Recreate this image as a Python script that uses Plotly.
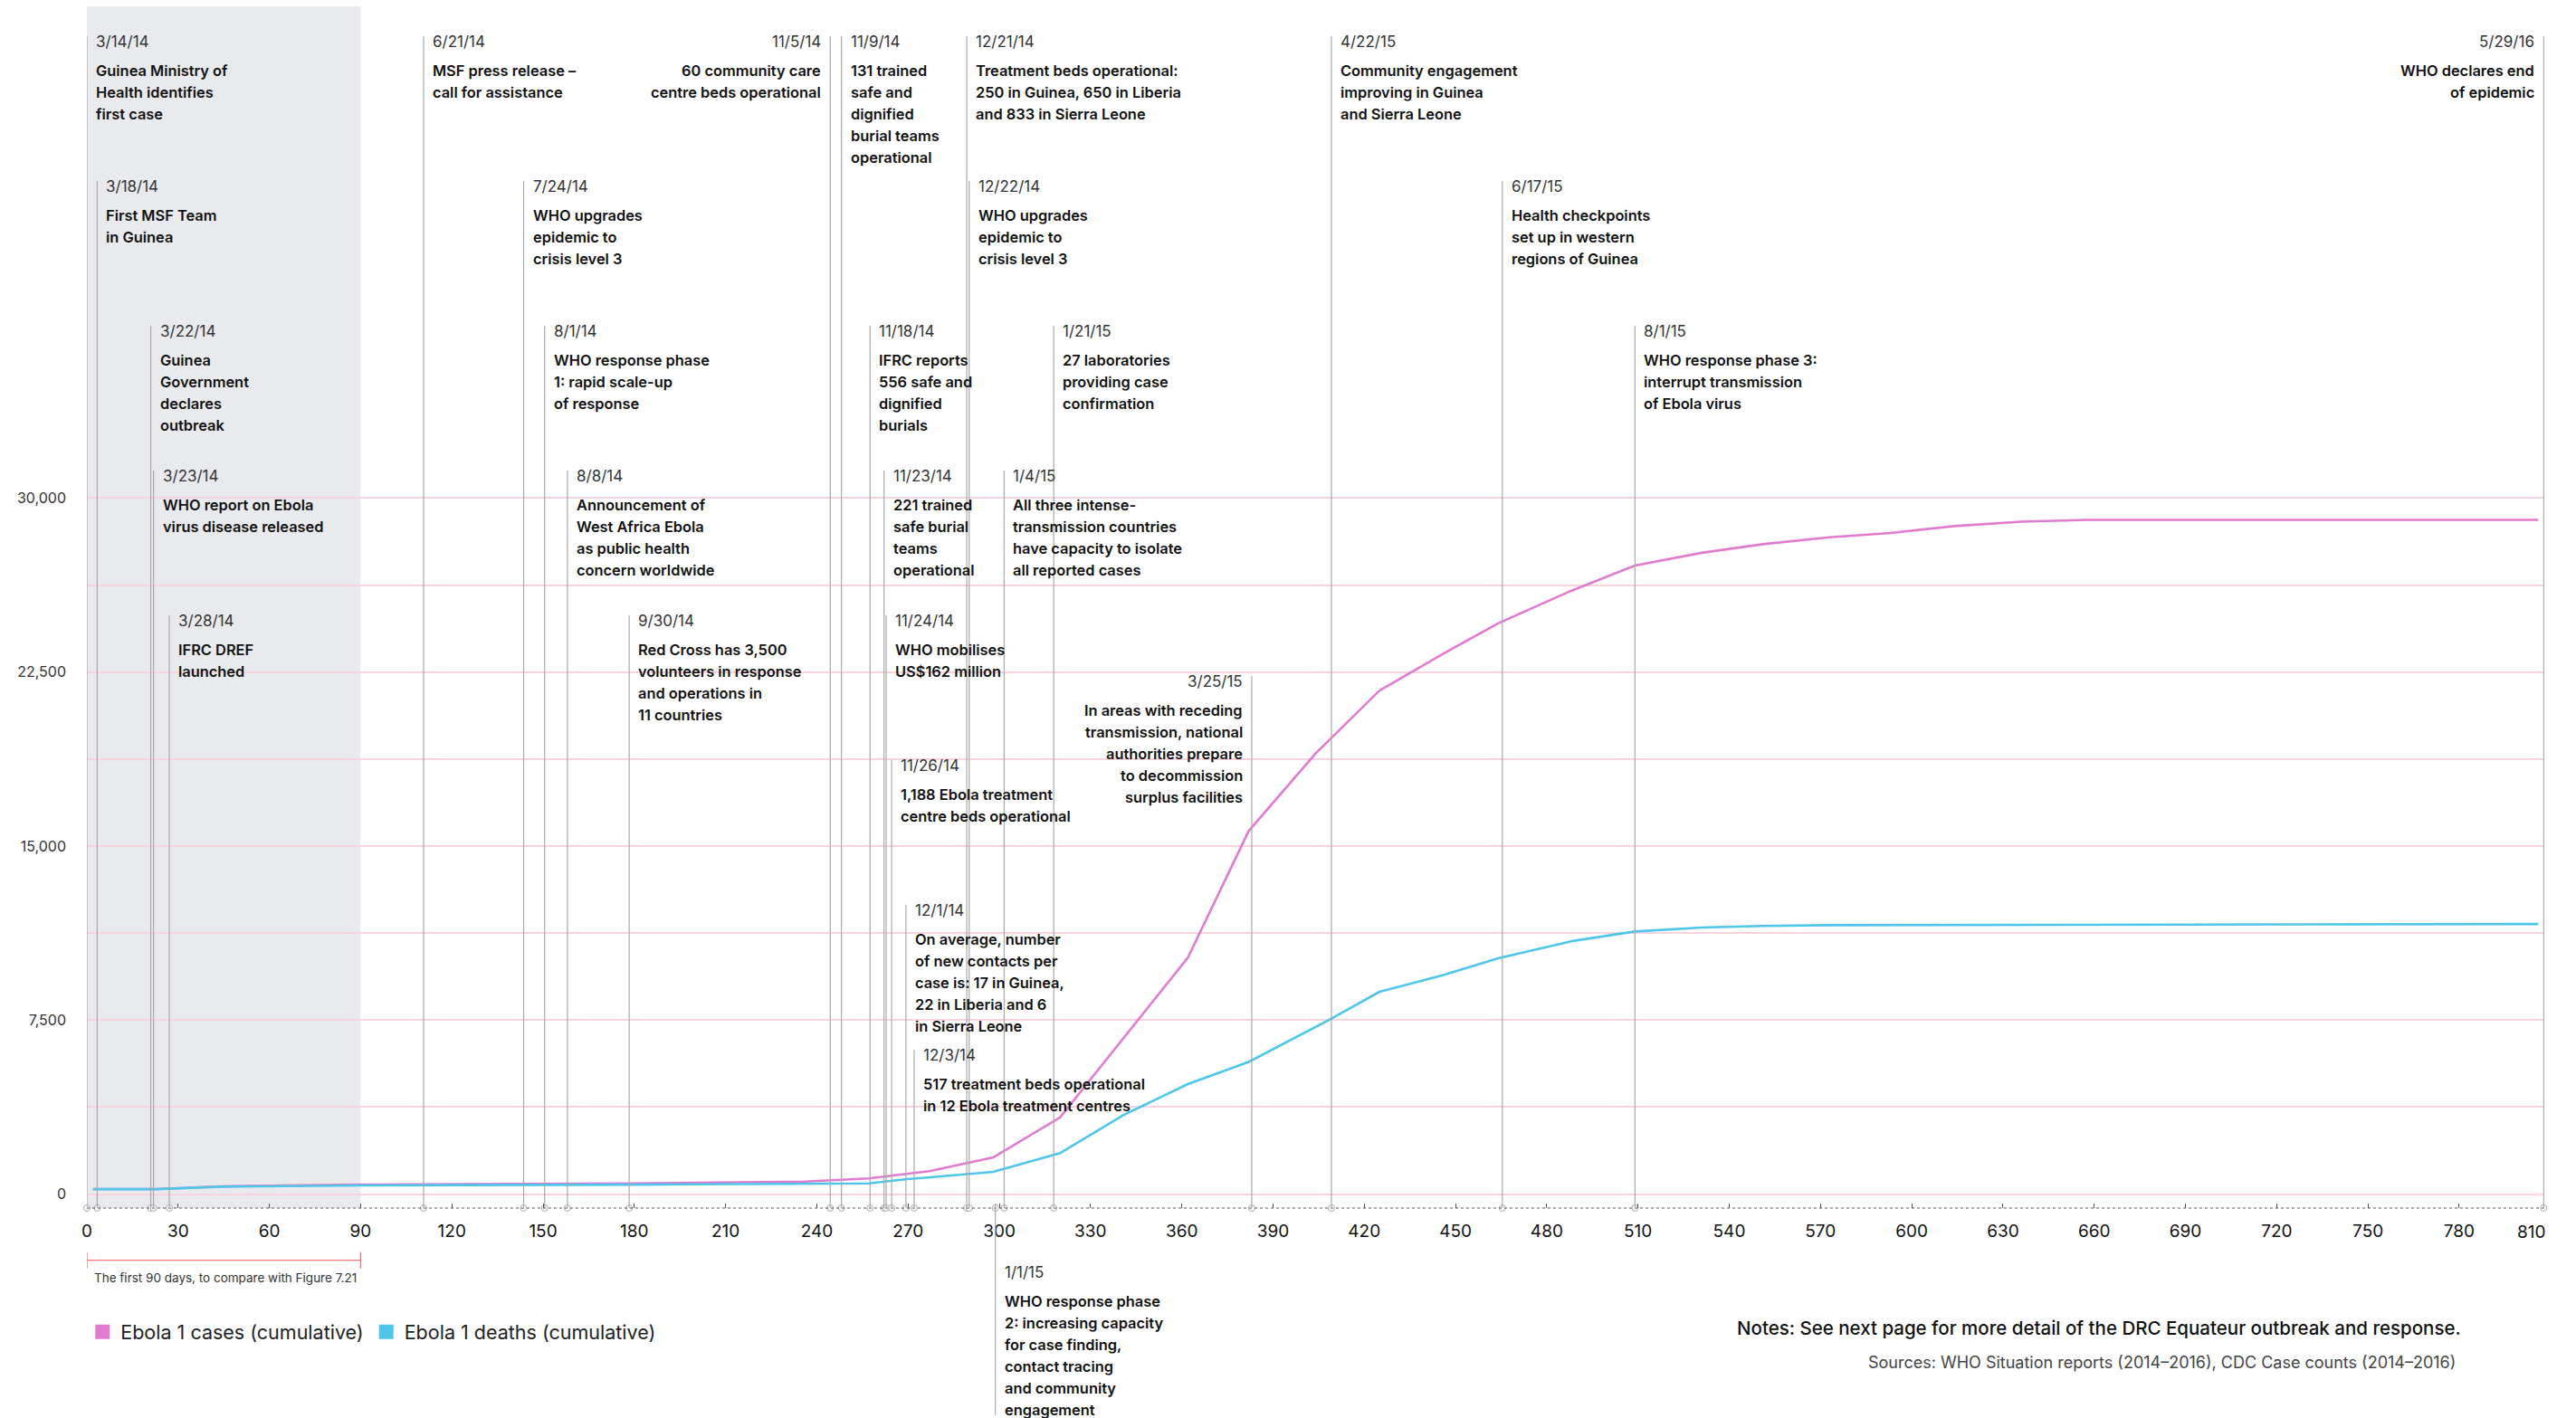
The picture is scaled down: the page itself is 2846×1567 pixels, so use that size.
import plotly.graph_objects as go

# ---------------- data ----------------
case_days = [2, 23, 44, 90, 179, 236, 257, 269, 277, 298, 320, 362, 382, 404, 425, 446, 464, 488, 509, 531, 551, 573, 593, 614, 636, 658, 806]
cases = [220, 220, 335, 410, 465, 540, 675, 880, 990, 1580, 3310, 10190, 15650, 18990, 21700, 23290, 24600, 26000, 27090, 27640, 28010, 28310, 28490, 28790, 28980, 29060, 29060]

death_days = [2, 23, 44, 90, 179, 236, 257, 269, 298, 320, 341, 362, 382, 408, 425, 446, 464, 489, 509, 531, 551, 573, 806]
deaths = [215, 215, 320, 375, 410, 440, 465, 636, 960, 1770, 3420, 4740, 5700, 7480, 8720, 9440, 10160, 10920, 11320, 11490, 11560, 11590, 11640]

x_ticks = list(range(0, 781, 30))
x_last_label = "810"
y_grid = [0, 3750, 7500, 11250, 15000, 18750, 22500, 26250, 30000]
y_labels = ["0", "", "7,500", "", "15,000", "", "22,500", "", "30,000"]

event_dates = ["3/14/14", "3/18/14", "3/22/14", "3/23/14", "3/28/14", "6/21/14", "7/24/14", "8/1/14",
               "8/8/14", "9/30/14", "11/5/14", "11/9/14", "11/18/14", "11/23/14", "11/24/14", "11/26/14",
               "12/1/14", "12/3/14", "12/21/14", "12/22/14", "1/1/15", "1/4/15", "1/21/15", "3/25/15",
               "4/22/15", "6/17/15", "8/1/15", "5/29/16"]
event_days = [0, 3.4, 21, 21.9, 27.1, 110.7, 143.6, 150.5,
              158, 178.3, 244.4, 248.1, 257.5, 262.1, 262.8, 264.6,
              269.3, 272, 289.3, 290.1, 298.7, 301.6, 317.9, 383,
              409.2, 465.4, 509, 807.8]
event_rows = [0, 1, 2, 3, 4, 0, 1, 2,
              3, 4, 0, 0, 2, 3, 4, 5,
              6, 7, 0, 1, 8.5, 3, 2, 4.42,
              0, 1, 2, 0]
event_sides = ["L", "L", "L", "L", "L", "L", "L", "L",
               "L", "L", "R", "L", "L", "L", "L", "L",
               "L", "L", "L", "L", "L", "L", "L", "R",
               "L", "L", "L", "R"]
event_texts = [
    ["Guinea Ministry of", "Health identifies", "first case"],
    ["First MSF Team", "in Guinea"],
    ["Guinea", "Government", "declares", "outbreak"],
    ["WHO report on Ebola", "virus disease released"],
    ["IFRC DREF", "launched"],
    ["MSF press release \u2013", "call for assistance"],
    ["WHO upgrades", "epidemic to", "crisis level 3"],
    ["WHO response phase", "1: rapid scale-up", "of response"],
    ["Announcement of", "West Africa Ebola", "as public health", "concern worldwide"],
    ["Red Cross has 3,500", "volunteers in response", "and operations in", "11 countries"],
    ["60 community care", "centre beds operational"],
    ["131 trained", "safe and", "dignified", "burial teams", "operational"],
    ["IFRC reports", "556 safe and", "dignified", "burials"],
    ["221 trained", "safe burial", "teams", "operational"],
    ["WHO mobilises", "US$162 million"],
    ["1,188 Ebola treatment", "centre beds operational"],
    ["On average, number", "of new contacts per", "case is: 17 in Guinea,", "22 in Liberia and 6", "in Sierra Leone"],
    ["517 treatment beds operational", "in 12 Ebola treatment centres"],
    ["Treatment beds operational:", "250 in Guinea, 650 in Liberia", "and 833 in Sierra Leone"],
    ["WHO upgrades", "epidemic to", "crisis level 3"],
    ["WHO response phase", "2: increasing capacity", "for case finding,", "contact tracing", "and community", "engagement"],
    ["All three intense-", "transmission countries", "have capacity to isolate", "all reported cases"],
    ["27 laboratories", "providing case", "confirmation"],
    ["In areas with receding", "transmission, national", "authorities prepare", "to decommission", "surplus facilities"],
    ["Community engagement", "improving in Guinea", "and Sierra Leone"],
    ["Health checkpoints", "set up in western", "regions of Guinea"],
    ["WHO response phase 3:", "interrupt transmission", "of Ebola virus"],
    ["WHO declares end", "of epidemic"],
]

first_days_range = [0, 90]
series_names = ["Ebola 1 cases (cumulative)", "Ebola 1 deaths (cumulative)"]
bracket_text = "The first 90 days, to compare with Figure 7.21"
notes_text = "Notes: See next page for more detail of the DRC Equateur outbreak and response."
sources_text = "Sources: WHO Situation reports (2014\u20132016), CDC Case counts (2014\u20132016)"

# ---------------- style / layout ----------------
W, H = 2846, 1567
ML, MR, MT, MB = 96, 35, 7, 232
PLOT_H = H - MT - MB
X_RANGE = [0, 808]
Y_RANGE = [-600, 51190]
PINK = "#E27BD0"
BLUE = "#4EC6EA"
GRID = "#F8D3DD"
VLINE = "#A9A9A9"
SHADE = "#E9EAED"
FONT = "Inter"
ROW0, ROW_STEP = 45.7, 160
FIRST_GAP, LINE_GAP = 32, 24


def py(px):
    """figure pixel (from top) -> paper y"""
    return 1 - (px - MT) / PLOT_H


fig = go.Figure()

fig.add_trace(go.Scatter(x=case_days, y=cases, mode="lines", line=dict(color=PINK, width=2.6),
                         showlegend=False, hoverinfo="skip"))
fig.add_trace(go.Scatter(x=death_days, y=deaths, mode="lines", line=dict(color=BLUE, width=2.6),
                         showlegend=False, hoverinfo="skip"))
# legend entries (square swatches)
fig.add_trace(go.Scatter(x=[None], y=[None], mode="markers", name=series_names[0],
                         marker=dict(symbol="square", size=17, color=PINK)))
fig.add_trace(go.Scatter(x=[None], y=[None], mode="markers", name=series_names[1],
                         marker=dict(symbol="square", size=17, color=BLUE)))
# event markers on the axis
fig.add_trace(go.Scatter(x=event_days, y=[Y_RANGE[0]] * len(event_days), mode="markers",
                         marker=dict(symbol="circle", size=7, color="white", line=dict(color=VLINE, width=1)),
                         cliponaxis=False, showlegend=False, hoverinfo="skip"))

shapes = []
# shaded first 90 days
shapes.append(dict(type="rect", xref="x", yref="paper", x0=first_days_range[0], x1=first_days_range[1],
                   y0=0, y1=1, fillcolor=SHADE, line=dict(width=0), layer="below"))
# dotted axis line
shapes.append(dict(type="line", xref="paper", yref="paper", x0=0, x1=1, y0=0, y1=0,
                   line=dict(color="#555", width=1, dash="dot"), layer="above"))

annotations = []
for d, day, row, side, lines in zip(event_dates, event_days, event_rows, event_sides, event_texts):
    date_y = ROW0 + ROW_STEP * row
    xanchor = "left" if side == "L" else "right"
    xshift = 8 if side == "L" else -8
    align = "left" if side == "L" else "right"
    annotations.append(dict(x=day, xref="x", y=py(date_y), yref="paper", text=d, showarrow=False,
                            xanchor=xanchor, yanchor="middle", xshift=xshift, align=align,
                            font=dict(family=FONT, size=17, color="#333")))
    for j, ln in enumerate(lines):
        annotations.append(dict(x=day, xref="x", y=py(date_y + FIRST_GAP + LINE_GAP * j), yref="paper",
                                text=ln, showarrow=False, xanchor=xanchor, yanchor="middle",
                                xshift=xshift, align=align,
                                font=dict(family=FONT, size=16.4, color="#111", weight=600)))
    last_y = date_y + FIRST_GAP + LINE_GAP * (len(lines) - 1)
    if date_y < MT + PLOT_H:
        shapes.append(dict(type="line", xref="x", yref="paper", x0=day, x1=day,
                           y0=0, y1=py(date_y - 6), line=dict(color=VLINE, width=1.2), layer="above"))
    else:
        shapes.append(dict(type="line", xref="x", yref="paper", x0=day, x1=day,
                           y0=py(MT + PLOT_H - 5), y1=py(last_y + 6), line=dict(color=VLINE, width=1.2),
                           layer="above"))

# bracket for first 90 days
BR_Y = 1392.7
shapes.append(dict(type="line", xref="x", yref="paper", x0=first_days_range[0], x1=first_days_range[1],
                   y0=py(BR_Y), y1=py(BR_Y), line=dict(color="#F07676", width=1.3)))
for xv in first_days_range:
    shapes.append(dict(type="line", xref="x", yref="paper", x0=xv, x1=xv,
                       y0=py(BR_Y - 9), y1=py(BR_Y + 9), line=dict(color="#F07676", width=1.3)))
annotations.append(dict(x=first_days_range[0], xref="x", y=py(1411.7), yref="paper", text=bracket_text,
                        showarrow=False, xanchor="left", yanchor="middle", xshift=6,
                        font=dict(family=FONT, size=13.5, color="#333")))
# last x label at the axis end
annotations.append(dict(x=1, xref="paper", y=py(1361.7), yref="paper", text=x_last_label, showarrow=False,
                        xanchor="right", yanchor="middle", xshift=3,
                        font=dict(family=FONT, size=19, color="#111")))
# notes & sources
annotations.append(dict(x=(2721 - ML) / (W - ML - MR), xref="paper", y=py(1467.7), yref="paper",
                        text=notes_text, showarrow=False, xanchor="right", yanchor="middle",
                        font=dict(family=FONT, size=20.5, color="#111", weight=500)))
annotations.append(dict(x=(2715 - ML) / (W - ML - MR), xref="paper", y=py(1505), yref="paper",
                        text=sources_text, showarrow=False, xanchor="right", yanchor="middle",
                        font=dict(family=FONT, size=18, color="#444")))

fig.update_layout(
    width=W, height=H, autosize=False,
    margin=dict(l=ML, r=MR, t=MT, b=MB, pad=0),
    paper_bgcolor="white", plot_bgcolor="rgba(0,0,0,0)",
    font=dict(family=FONT, color="#222"),
    shapes=shapes, annotations=annotations,
    showlegend=True,
    legend=dict(orientation="h", x=-0.001, y=py(1471.7), xanchor="left", yanchor="middle",
                font=dict(family=FONT, size=21.5, color="#222"), bgcolor="rgba(0,0,0,0)",
                itemwidth=30, tracegroupgap=0),
    xaxis=dict(range=X_RANGE, tickvals=x_ticks, ticktext=[str(v) for v in x_ticks],
               showgrid=False, zeroline=False, showline=False,
               ticks="inside", ticklen=5, tickcolor="#555", tickwidth=1,
               tickfont=dict(family=FONT, size=19, color="#111"), ticklabelstandoff=12),
    yaxis=dict(range=Y_RANGE, tickvals=y_grid, ticktext=y_labels,
               showgrid=True, gridcolor=GRID, gridwidth=1.6, zeroline=False, showline=False,
               ticks="", tickfont=dict(family=FONT, size=16, color="#333"), ticklabelstandoff=22),
)

fig.write_html("out.html", config={"displayModeBar": False},
               post_script="document.body.style.margin='0';document.body.style.overflow='hidden';")
